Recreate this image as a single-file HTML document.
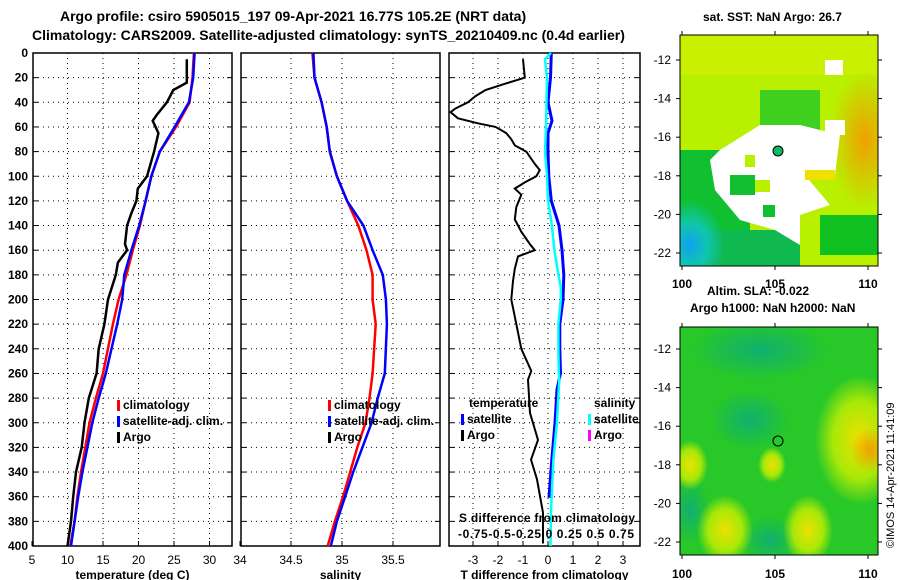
<!DOCTYPE html>
<html><head><meta charset="utf-8"><style>
body{margin:0;background:#fff}
svg{display:block;font-family:"Liberation Sans",sans-serif;font-weight:bold}
</style></head><body>
<svg id="c" width="900" height="580" viewBox="0 0 900 580">
<defs>
<radialGradient id="orng" cx="0.5" cy="0.5" r="0.5"><stop offset="0" stop-color="#f0a000"/><stop offset="1" stop-color="#f0a000" stop-opacity="0"/></radialGradient>
<radialGradient id="yel" cx="0.5" cy="0.5" r="0.5"><stop offset="0" stop-color="#f0e000"/><stop offset="0.6" stop-color="#c8f000" stop-opacity="0.8"/><stop offset="1" stop-color="#c8f000" stop-opacity="0"/></radialGradient>
<radialGradient id="cyn" cx="0.5" cy="0.5" r="0.5"><stop offset="0" stop-color="#10a0f0"/><stop offset="0.5" stop-color="#10c8c8" stop-opacity="0.8"/><stop offset="1" stop-color="#10c8c8" stop-opacity="0"/></radialGradient>
<radialGradient id="dg" cx="0.5" cy="0.5" r="0.5"><stop offset="0" stop-color="#10b070"/><stop offset="1" stop-color="#10b070" stop-opacity="0"/></radialGradient>
<clipPath id="clip1"><rect x="680" y="35" width="198" height="231"/></clipPath>
<clipPath id="clip2"><rect x="680" y="327" width="198" height="228"/></clipPath>
</defs>
<text x="60" y="21" font-size="14">Argo profile: csiro 5905015_197 09-Apr-2021 16.77S 105.2E (NRT data)</text>
<text x="32" y="40" font-size="14">Climatology: CARS2009. Satellite-adjusted climatology: synTS_20210409.nc (0.4d earlier)</text>
<g id="p1"></g>
<g id="p2"></g>
<g id="p3"></g>

<!-- SST map -->
<g>
<text x="703" y="21" font-size="12">sat. SST: NaN Argo: 26.7</text>
<g clip-path="url(#clip1)">
<rect x="680" y="35" width="198" height="231" fill="#b8f000"/>
<rect x="680" y="35" width="198" height="40" fill="#c8f000"/>
<rect x="680" y="150" width="70" height="116" fill="#10c030"/>
<rect x="680" y="230" width="120" height="36" fill="#10b850"/>
<ellipse cx="690" cy="245" rx="35" ry="45" fill="url(#cyn)"/>
<ellipse cx="865" cy="140" rx="35" ry="70" fill="url(#orng)"/>
<rect x="820" y="215" width="58" height="40" fill="#10c020"/>
<rect x="760" y="90" width="60" height="40" fill="#40d020"/>
<path d="M720 150 L760 125 L800 125 L840 135 L835 175 L805 175 L830 205 L800 215 L800 245 L775 230 L740 220 L715 190 L710 160 Z" fill="#fff"/>
<rect x="825" y="60" width="18" height="15" fill="#fff"/>
<rect x="825" y="120" width="20" height="15" fill="#fff"/>
<rect x="745" y="155" width="10" height="12" fill="#b8f000"/>
<rect x="805" y="170" width="30" height="10" fill="#f0e000"/>
<rect x="750" y="180" width="20" height="12" fill="#b8f000"/>
<rect x="730" y="175" width="25" height="20" fill="#10c030"/>
<rect x="763" y="205" width="12" height="12" fill="#10c030"/>
</g>
<rect x="680" y="35" width="198" height="231" fill="none" stroke="#000"/>
<circle cx="778" cy="151" r="5" fill="#10b860" stroke="#000"/>
</g>
<g id="m1ax"></g>

<!-- SLA map -->
<g>
<text x="707" y="295" font-size="12">Altim. SLA: -0.022</text>
<text x="690" y="312" font-size="12">Argo h1000: NaN h2000: NaN</text>
<g clip-path="url(#clip2)">
<rect x="680" y="327" width="198" height="228" fill="#28c828"/>
<ellipse cx="760" cy="350" rx="70" ry="30" fill="url(#dg)"/>
<ellipse cx="750" cy="420" rx="40" ry="30" fill="url(#dg)"/>
<ellipse cx="690" cy="510" rx="20" ry="35" fill="url(#dg)"/>
<ellipse cx="770" cy="540" rx="30" ry="25" fill="url(#dg)"/>
<ellipse cx="860" cy="440" rx="45" ry="65" fill="url(#yel)"/>
<ellipse cx="870" cy="450" rx="20" ry="22" fill="url(#orng)"/>
<ellipse cx="725" cy="530" rx="28" ry="35" fill="url(#yel)"/>
<ellipse cx="808" cy="530" rx="25" ry="35" fill="url(#yel)"/>
<ellipse cx="690" cy="465" rx="18" ry="25" fill="url(#yel)"/>
<ellipse cx="772" cy="465" rx="14" ry="18" fill="url(#yel)"/>
</g>
<rect x="680" y="327" width="198" height="228" fill="none" stroke="#000"/>
<circle cx="778" cy="441" r="5" fill="none" stroke="#000"/>
</g>
<g id="m2ax"></g>
<text transform="translate(894,548) rotate(-90)" font-size="11" font-weight="normal">©IMOS 14-Apr-2021 11:41:09</text>
</svg>
<script>
const depths = [0,20,40,60,80,100,120,140,160,180,200,220,260,280,300,320,340,360,380,400];
const tempClim = [27.8,27.6,27.2,25.3,23.0,21.8,21.0,20.2,19.2,18.3,17.2,16.4,15.0,14.0,13.1,12.5,11.9,11.4,11.0,10.4];
const tempSat  = [27.9,27.7,27.1,25.1,23.0,21.8,21.0,20.1,19.0,18.0,17.7,17.0,15.4,14.4,13.5,12.8,12.1,11.5,11.0,10.5];
const argoDepths = [5,24,30,40,50,55,65,80,100,110,120,130,140,155,160,170,180,200,220,240,260,280,300,320,340,360,380,400];
const tempArgo   = [26.8,26.8,24.9,24.0,22.6,22.0,22.8,22.2,21.2,19.9,19.7,19.0,18.4,18.1,18.4,17.1,16.8,15.7,15.2,14.4,14.1,13.0,12.4,12.0,11.2,10.8,10.5,10.0];
const salClim = [34.71,34.73,34.80,34.85,34.88,34.95,35.05,35.16,35.24,35.30,35.30,35.33,35.30,35.27,35.23,35.15,35.08,35.01,34.93,34.86];
const salSat  = [34.72,34.73,34.80,34.85,34.88,34.95,35.05,35.21,35.30,35.40,35.43,35.44,35.42,35.35,35.29,35.20,35.11,35.03,34.95,34.89];
const diffDepths = [5,20,25,30,35,40,45,48,53,57,60,65,70,75,80,90,95,100,105,110,115,125,135,145,155,160,165,175,185,200,220,240,258,265,292,314,330,346,373,398];
const tDiffArgo  = [-1.0,-0.93,-1.73,-2.5,-2.9,-3.2,-3.7,-3.9,-3.6,-2.8,-2.1,-1.67,-1.47,-1.33,-0.87,-0.53,-0.33,-0.47,-0.93,-1.33,-1.07,-1.27,-1.33,-1.07,-0.73,-0.53,-1.2,-1.33,-1.4,-1.47,-1.27,-1.07,-0.67,-0.8,-0.72,-0.4,-0.68,-0.44,-0.2,-0.2];
const satTDepths = [0,20,40,55,65,80,100,120,140,160,180,200,220,240,260,273,300,330,361];
const tDiffSat   = [0.13,0.1,0.0,0.16,0.0,0.0,0.03,0.13,0.44,0.56,0.63,0.6,0.47,0.47,0.5,0.36,0.28,0.15,0.04];
const satSDepths = [0,5,20,60,80,100,120,140,160,180,190,200,220,240,260,265,300,330,373,400];
const sDiffSat   = [0.04,-0.02,0.0,-0.01,-0.02,0.0,0.01,0.05,0.075,0.115,0.14,0.14,0.115,0.115,0.12,0.125,0.1,0.065,0.04,0.035];
const depthTicks = [0,20,40,60,80,100,120,140,160,180,200,220,240,260,280,300,320,340,360,380,400];
const tempTicks = [5,10,15,20,25,30];
const salTicks = [34,34.5,35,35.5];
const diffTicks = [-3,-2,-1,0,1,2,3];
const latTicks = [-12,-14,-16,-18,-20,-22];
const lonTicks = [100,105,110];

const NS='http://www.w3.org/2000/svg';
function el(par,tag,at){const e=document.createElementNS(NS,tag);for(const k in at)e.setAttribute(k,at[k]);par.appendChild(e);return e;}
const yD=d=>53+d*(493/400);
const xT=t=>32+(t-5)*7.1;
const xS=s=>240+(s-34)*102;
const xDT=t=>548+t*25;
const xDS=s=>547+s*98.7;

function frame(g,x0,x1,xt,xfn,lab,showY){
  el(g,'rect',{x:x0,y:53,width:x1-x0,height:493,fill:'none',stroke:'#000','stroke-width':1.5});
  for(const d of depthTicks){const y=yD(d);
    if(d>0&&d<400){const l=el(g,'line',{x1:x0,x2:x1,y1:y,y2:y,stroke:'#000','stroke-dasharray':'1 4'});}
    el(g,'line',{x1:x0,x2:x0+5,y1:y,y2:y,stroke:'#000'});el(g,'line',{x1:x1-5,x2:x1,y1:y,y2:y,stroke:'#000'});
    if(showY){const t=el(g,'text',{x:28,y:y+4,'font-size':12,'text-anchor':'end'});t.textContent=d;
      }
  }
  for(const v of xt){const x=xfn(v);
    if(x>x0+2&&x<x1-2){el(g,'line',{x1:x,x2:x,y1:53,y2:546,stroke:'#000','stroke-dasharray':'1 4'});}
    el(g,'line',{x1:x,x2:x,y1:546,y2:541,stroke:'#000'});
    const t=el(g,'text',{x:x,y:564,'font-size':12,'text-anchor':'middle','font-weight':'normal'});t.textContent=v;
    }
  const t=el(g,'text',{x:(x0+x1)/2,y:579,'font-size':12,'text-anchor':'middle'});t.textContent=lab;
  
}
function line(g,xs,ds,xfn,col,name,w){
  const p=xs.map((v,i)=>xfn(v).toFixed(1)+','+yD(ds[i]).toFixed(1)).join(' ');
  const l=el(g,'polyline',{points:p,fill:'none',stroke:col,'stroke-width':w||2.5});
  
}
function legend(g,x,y,items){items.forEach((it,i)=>{
  el(g,'rect',{x:x,y:y+i*16-9,width:3,height:11,fill:it.c});
  const t=el(g,'text',{x:x+6,y:y+i*16,'font-size':12});t.textContent=it.t;
  });}

const p1=document.getElementById('p1');
frame(p1,33,232,tempTicks,xT,'temperature (deg C)',true);
line(p1,tempClim,depths,xT,'#f00','temp-climatology-line');
line(p1,tempSat,depths,xT,'#00f','temp-satellite-line');
line(p1,tempArgo,argoDepths,xT,'#000','temp-argo-line');
legend(p1,117,409,[{c:'#f00',t:'climatology'},{c:'#00f',t:'satellite-adj. clim.'},{c:'#000',t:'Argo'}]);

const p2=document.getElementById('p2');
frame(p2,241,440,salTicks,xS,'salinity',false);
line(p2,salClim,depths,xS,'#f00','sal-climatology-line');
line(p2,salSat,depths,xS,'#00f','sal-satellite-line');
legend(p2,328,409,[{c:'#f00',t:'climatology'},{c:'#00f',t:'satellite-adj. clim.'},{c:'#000',t:'Argo'}]);

const p3=document.getElementById('p3');
frame(p3,449,640,diffTicks,xDT,'T difference from climatology',false);
line(p3,tDiffSat,satTDepths,xDT,'#00f','tdiff-satellite-line',3);
line(p3,sDiffSat,satSDepths,xDS,'#0ff','sdiff-satellite-line',2.5);
line(p3,tDiffArgo,diffDepths,xDT,'#000','tdiff-argo-line',2);
let t=el(p3,'text',{x:469,y:407,'font-size':12});t.textContent='temperature';

let t2=el(p3,'text',{x:594,y:407,'font-size':12});t2.textContent='salinity';

legend(p3,461,423,[{c:'#00f',t:'satellite'},{c:'#000',t:'Argo'}]);
legend(p3,588,423,[{c:'#0ff',t:'satellite'},{c:'#f0f',t:'Argo'}]);
let t3=el(p3,'text',{x:459,y:522,'font-size':12,textLength:176});t3.textContent='S difference from climatology';

let t4=el(p3,'text',{x:458,y:538,'font-size':12,textLength:176});t4.textContent='-0.75-0.5-0.25 0  0.25 0.5 0.75';


function mapAxes(g,y0,y1,latY,labY){
  for(const la of latTicks){const y=latY(la);
    el(g,'line',{x1:676,x2:680,y1:y,y2:y,stroke:'#000'});el(g,'line',{x1:878,x2:882,y1:y,y2:y,stroke:'#000'});
    const tt=el(g,'text',{x:671,y:y+4,'font-size':12,'text-anchor':'end','font-weight':'normal'});tt.textContent=la;
    }
  for(const lo of lonTicks){const x=682+(lo-100)*18.6;
    el(g,'line',{x1:x,x2:x,y1:y1,y2:y1+4,stroke:'#000'});el(g,'line',{x1:x,x2:x,y1:y0-4,y2:y0,stroke:'#000'});
    const tt=el(g,'text',{x:x,y:labY,'font-size':12,'text-anchor':'middle'});tt.textContent=lo;
    }
}
mapAxes(document.getElementById('m1ax'),35,266,la=>60+(-12-la)*19.3,288);
mapAxes(document.getElementById('m2ax'),327,555,la=>349+(-12-la)*19.3,578);
</script>
</body></html>
